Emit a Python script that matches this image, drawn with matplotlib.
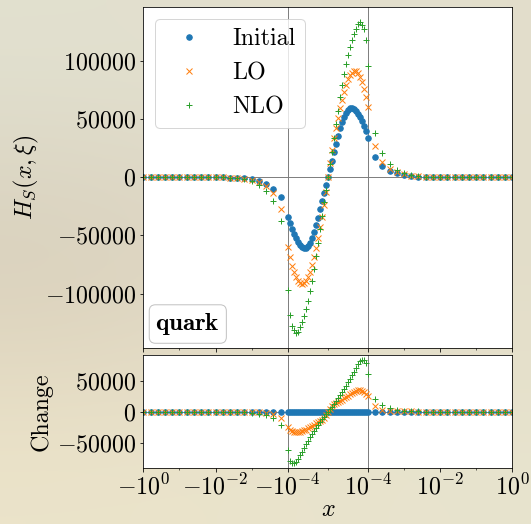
import numpy as np
import matplotlib
matplotlib.use('Agg')
import matplotlib.pyplot as plt
from matplotlib.ticker import FixedLocator, FixedFormatter, FuncFormatter

plt.rcParams['font.family'] = 'serif'
plt.rcParams['font.serif'] = ['cmr10']
plt.rcParams['mathtext.fontset'] = 'cm'
plt.rcParams['axes.formatter.use_mathtext'] = True
plt.rcParams['font.size'] = 24

# sample points: log part left, linear part (units of 1e-4), log part right
x_left = [-1.0, -0.631, -0.398, -0.251, -0.158, -0.1, -0.0631, -0.0398, -0.0251, -0.0158,
          -0.01, -0.00631, -0.00398, -0.00251, -0.00158, -0.001, -0.000631, -0.000398,
          -0.000251, -0.000158]
u_mid = [-1.00, -0.95, -0.90, -0.85, -0.80, -0.75, -0.70, -0.65, -0.60, -0.55, -0.50,
         -0.45, -0.40, -0.35, -0.30, -0.25, -0.20, -0.15, -0.10, -0.05, 0.00,
         0.05, 0.10, 0.15, 0.20, 0.25, 0.30, 0.35, 0.40, 0.45, 0.50,
         0.55, 0.60, 0.65, 0.70, 0.75, 0.80, 0.85, 0.90, 0.95, 1.00]
x_right = [0.000158, 0.000251, 0.000398, 0.000631, 0.001, 0.00158, 0.00251, 0.00398,
           0.00631, 0.01, 0.0158, 0.0251, 0.0398, 0.0631, 0.1, 0.158, 0.251, 0.398,
           0.631, 1.0]

init_left = [0, 0, 0, 0, 0, 0, 0, -10, -20, -40, -80, -150, -300, -550, -1000, -1600,
             -3400, -6000, -10000, -17200]
init_mid = [-34600, -39500, -44500, -48800, -52600, -55800, -58300, -60000, -60800, -60500,
            -59000, -56300, -52500, -47500, -41500, -34800, -27500, -20500, -13500, -6700,
            0,
            7000, 14000, 21500, 28500, 35500, 42000, 47500, 52000, 55500, 58000,
            59300, 59600, 58800, 57000, 54500, 51500, 48000, 44000, 39500, 34000]
init_right = [16900, 9700, 5400, 3200, 1700, 1000, 550, 300, 150, 80, 40, 20, 10,
              0, 0, 0, 0, 0, 0, 0]

lo_left = [0, 0, 0, 0, 0, 0, 0, -12, -25, -50, -100, -200, -380, -700, -1300, -2300,
           -4300, -7400, -13500, -27000]
lo_mid = [-60000, -68500, -76000, -81800, -86000, -89200, -90900, -91500, -91000, -89300,
          -86000, -81500, -75500, -68500, -60500, -52000, -43000, -34000, -24000, -12500,
          0,
          12000, 23500, 33500, 42500, 51000, 59000, 66500, 73500, 79500, 84000,
          87500, 89800, 91000, 90800, 89200, 86000, 81800, 76000, 68500, 60000]
lo_right = [26500, 13000, 7200, 4200, 2300, 1300, 700, 380, 200, 100, 50, 25, 12,
            0, 0, 0, 0, 0, 0, 0]

nlo_left = [0, 0, 0, 0, 0, 0, 0, -15, -30, -60, -130, -250, -480, -900, -1700, -3300,
            -6400, -11500, -20800, -38000]
nlo_mid = [-96600, -118500, -127500, -131300, -133600, -132800, -128800, -124500, -119300,
           -113000, -106000, -97800, -89000, -79000, -68000, -56300, -44500, -33000,
           -21500, -10700,
           0,
           11000, 22000, 34000, 45500, 57000, 68500, 79000, 88500, 97000, 105000,
           111800, 118100, 123300, 127500, 131500, 133000, 131000, 127000, 117500, 95000]
nlo_right = [37500, 20500, 11500, 6400, 3300, 1700, 900, 480, 250, 130, 60, 30, 15,
             0, 0, 0, 0, 0, 0, 0]

x = np.array(x_left + [u * 1e-4 for u in u_mid] + x_right)
init = np.array(init_left + init_mid + init_right, dtype=float)
lo = np.array(lo_left + lo_mid + lo_right, dtype=float)
nlo = np.array(nlo_left + nlo_mid + nlo_right, dtype=float)

xi = 1e-4
major_x = [-1, -1e-2, -1e-4, 1e-4, 1e-2, 1]
major_lbl = [r'$-10^{0}$', r'$-10^{-2}$', r'$-10^{-4}$', r'$10^{-4}$', r'$10^{-2}$', r'$10^{0}$']
minor_x = [-1e-1, -1e-3, 0, 1e-3, 1e-1]

fig = plt.figure(figsize=(531 / 72, 524 / 72), dpi=72)

# background
bg = fig.add_axes([0, 0, 1, 1], zorder=-10)
bg_cols = np.array([[[226, 225, 208], [228, 224, 206], [226, 222, 204]],
                    [[214, 204, 184], [222, 214, 196], [226, 220, 200]],
                    [[236, 228, 202], [234, 228, 204], [232, 228, 206]]]) / 255
bg.imshow(bg_cols, aspect='auto', interpolation='bicubic', extent=[0, 1, 0, 1])
bg.axis('off')

ax = fig.add_axes([0.2699, 0.3353, 0.6949, 0.6519])
ax2 = fig.add_axes([0.2699, 0.1063, 0.6949, 0.2162], sharex=ax)

for a in (ax, ax2):
    a.axvline(-xi, color='gray', lw=1, zorder=1)
    a.axvline(xi, color='gray', lw=1, zorder=1)
    a.axhline(0, color='gray', lw=1, zorder=1)

ax.plot(x, init, 'o', ms=5.5, label='Initial')
ax.plot(x, lo, 'x', ms=5.5, label='LO')
ax.plot(x, nlo, '+', ms=5.5, label='NLO')

ax2.plot(x, init - init, 'o', ms=5.5)
ax2.plot(x, lo - init, 'x', ms=5.5)
ax2.plot(x, nlo - init, '+', ms=5.5)

ax.set_xscale('symlog', linthresh=xi)
ax.set_xlim(-1, 1)
for a in (ax, ax2):
    a.xaxis.set_major_locator(FixedLocator(major_x))
    a.xaxis.set_minor_locator(FixedLocator(minor_x))
    a.yaxis.set_major_formatter(FuncFormatter(lambda v, p: r'$%d$' % v))
    a.tick_params(labelsize=24)
ax2.xaxis.set_major_formatter(FixedFormatter(major_lbl))
ax2.tick_params(axis='x', pad=2)
ax.tick_params(axis='x', labelbottom=False)
ax.set_yticks([-100000, -50000, 0, 50000, 100000])
ax2.set_yticks([-50000, 0, 50000])

ax.set_ylabel(r'$H_S(x,\xi)$', fontsize=24)
ax2.set_ylabel('Change', fontsize=24)
ax2.set_xlabel(r'$x$', fontsize=24, labelpad=0)

ax.legend(loc='upper left', fontsize=24)
ax.text(0.033, 0.033, r'$\mathbf{quark}$', transform=ax.transAxes, fontsize=25,
        va='bottom', ha='left',
        bbox=dict(boxstyle='round,pad=0.25', fc='white', ec='0.7', alpha=0.8))

fig.savefig('out.png', dpi=72)
